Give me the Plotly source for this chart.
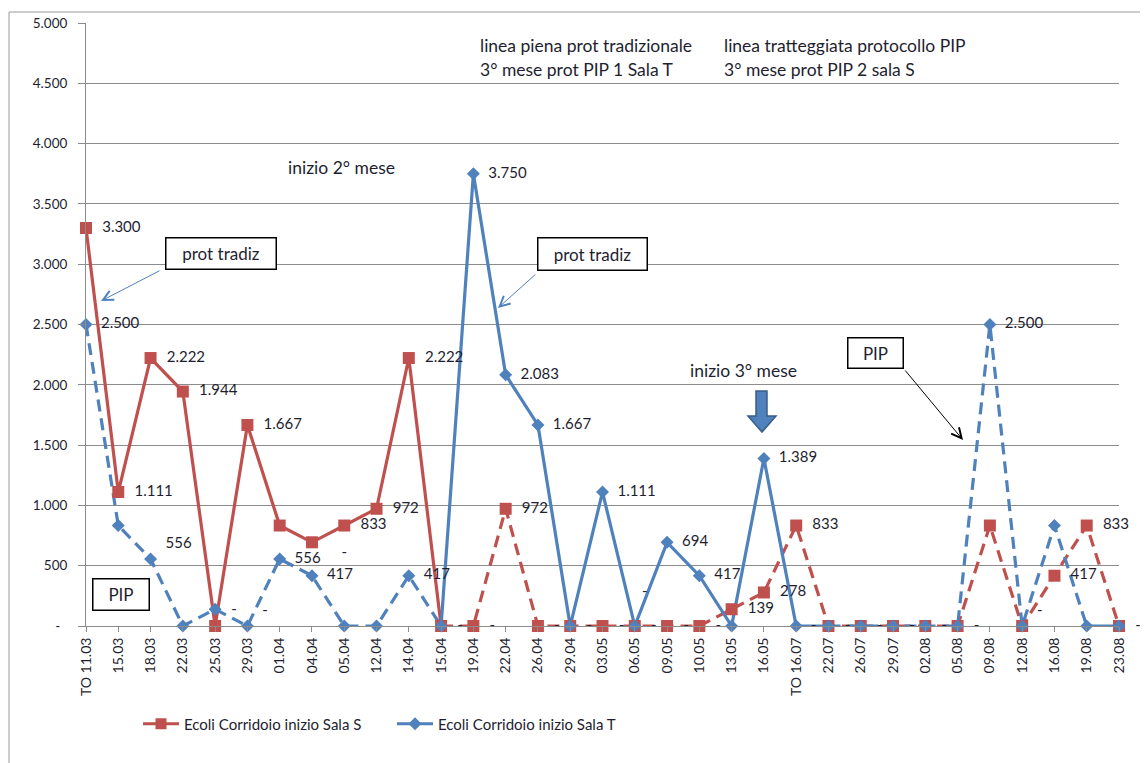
import plotly.graph_objects as go

categories = ["TO 11.03", "15.03", "18.03", "22.03", "25.03", "29.03", "01.04", "04.04",
              "05.04", "12.04", "14.04", "15.04", "19.04", "22.04", "26.04", "29.04",
              "03.05", "06.05", "09.05", "10.05", "13.05", "16.05", "TO 16.07", "22.07",
              "26.07", "29.07", "02.08", "05.08", "09.08", "12.08", "16.08", "19.08", "23.08"]

sala_s = [3300, 1111, 2222, 1944, 0, 1667, 833, 694, 833, 972, 2222, 0,
          0, 972, 0, 0, 0, 0, 0, 0, 139, 278, 833, 0,
          0, 0, 0, 0, 833, 0, 417, 833, 0]

sala_t = [2500, 833, 556, 0, 139, 0, 556, 417, 0, 0, 417, 0,
          3750, 2083, 1667, 0, 1111, 0, 694, 417, 0, 1389, 0, 0,
          0, 0, 0, 0, 2500, 0, 833, 0, 0]

labels_s = ["3.300", "1.111", "2.222", "1.944", "-", "1.667", "", "", "833", "972", "2.222", "-",
            "-", "972", "-", "-", "-", "-", "-", "-", "139", "278", "833", "-",
            "-", "-", "-", "-", "", "", "417", "833", "-"]
labels_t = ["2.500", "", "556", "", "", "-", "556", "417", "-", "", "417", "",
            "3.750", "2.083", "1.667", "", "1.111", "-", "694", "417", "", "1.389", "-", "",
            "", "", "", "", "2.500", "-", "", "", ""]
labpos_s = ["middle right"] * 33
labpos_s[4] = "top right"
labpos_t = ["middle right"] * 33
for i in (2, 5, 17, 29):
    labpos_t[i] = "top right"
labpos_t[8] = "top center"
# labels lifted higher above their point (number of blank lines under the text)
lift_t = {8: 3, 17: 1}

y_ticks = [0, 500, 1000, 1500, 2000, 2500, 3000, 3500, 4000, 4500, 5000]
y_ticktext = ["-\u00a0\u00a0", "500", "1.000", "1.500", "2.000", "2.500", "3.000",
              "3.500", "4.000", "4.500", "5.000"]

RED = "#C0504D"
BLUE = "#4F81BD"
FONT = "Lato"
TXT = "#1e1e30"

# segments: (start, end, dash)
seg_s = [(0, 11, "solid"), (11, 32, "12px,7px")]
seg_t = [(0, 11, "12px,7px"), (11, 23, "solid"), (23, 31, "12px,7px"), (31, 32, "solid")]

fig = go.Figure()


def add_segments(vals, segs, color):
    for a, b, dash in segs:
        fig.add_trace(go.Scatter(
            x=categories[a:b + 1], y=vals[a:b + 1], mode="lines",
            line=dict(color=color, width=3.2, dash=dash),
            showlegend=False, hoverinfo="skip", cliponaxis=False))


add_segments(sala_s, seg_s, RED)
add_segments(sala_t, seg_t, BLUE)

lab_s = ["\u00a0\u00a0" + t if t else "" for t in labels_s]
lab_t = []
for i, t in enumerate(labels_t):
    if not t:
        lab_t.append("")
    elif i in lift_t:
        lab_t.append(t + "<br>\u00a0" * lift_t[i])
    else:
        lab_t.append("\u00a0\u00a0" + t)

fig.add_trace(go.Scatter(
    x=categories, y=sala_s, mode="markers+text", name="Ecoli Corridoio inizio Sala S",
    marker=dict(symbol="square", size=12, color=RED),
    text=lab_s, textposition=labpos_s, textfont=dict(family=FONT, size=15, color=TXT),
    showlegend=False, cliponaxis=False))
fig.add_trace(go.Scatter(
    x=categories, y=sala_t, mode="markers+text", name="Ecoli Corridoio inizio Sala T",
    marker=dict(symbol="diamond", size=10, color=BLUE),
    text=lab_t, textposition=labpos_t, textfont=dict(family=FONT, size=15, color=TXT),
    showlegend=False, cliponaxis=False))

# legend entries
fig.add_trace(go.Scatter(x=[None], y=[None], mode="lines+markers", name="Ecoli Corridoio inizio Sala S",
                         line=dict(color=RED, width=3.2), marker=dict(symbol="square", size=11, color=RED)))
fig.add_trace(go.Scatter(x=[None], y=[None], mode="lines+markers", name="Ecoli Corridoio inizio Sala T",
                         line=dict(color=BLUE, width=3.2), marker=dict(symbol="diamond", size=10, color=BLUE)))

# screen-pixel -> data helpers for decorations (page has 8px body offset)
OFF = 8
W, H = 1148 - OFF, 763 - OFF
X0, X1, Y0, Y1 = 86, 1119, 626, 23


def xd(px):
    return (px - X0) / ((X1 - X0) / 32)


def yd(py):
    return (Y0 - py) / (Y0 - Y1) * 5000


annotations = []


def note(text, px, py, size=17.5, anchor="left"):
    annotations.append(dict(text=text, x=xd(px), y=yd(py), xref="x", yref="y",
                            showarrow=False, xanchor=anchor, yanchor="middle",
                            font=dict(family=FONT, size=size, color=TXT)))


def box(text, cx, cy, w, h):
    annotations.append(dict(text=text, x=xd(cx), y=yd(cy), xref="x", yref="y",
                            showarrow=False, xanchor="center", yanchor="middle",
                            width=w, height=h, borderpad=0, borderwidth=1.5,
                            bordercolor="#000000", bgcolor="#ffffff",
                            font=dict(family=FONT, size=17, color=TXT)))


def arrow(tail, tip, color):
    annotations.append(dict(text="", x=xd(tip[0]), y=yd(tip[1]), xref="x", yref="y",
                            ax=xd(tail[0]), ay=yd(tail[1]), axref="x", ayref="y",
                            showarrow=True, arrowhead=5, arrowsize=2, arrowwidth=1,
                            arrowcolor=color))


note("linea piena prot tradizionale", 478, 45)
note("3° mese prot PIP 1 Sala T", 478, 69)
note("linea tratteggiata protocollo PIP", 722, 45)
note("3° mese prot PIP 2 sala S", 722, 69)
note("inizio 2° mese", 286, 167)
note("inizio 3° mese", 688, 370)

box("prot tradiz", 221, 253, 109, 30)
box("prot tradiz", 592, 254, 108, 31)
box("PIP", 121, 594, 55, 30)
box("PIP", 875, 353, 54, 29)

arrow((161, 270), (101, 301), BLUE)
arrow((537, 273), (498, 308), BLUE)
arrow((904, 369), (963, 440), "#000000")

# block arrow "inizio 3° mese"
pts = [(756, 391), (767, 391), (767, 416), (776, 416), (762, 432), (748, 416), (756, 416)]
path = "M " + " L ".join(f"{xd(a):.4f},{yd(b):.2f}" for a, b in pts) + " Z"

shapes = [
    dict(type="path", path=path, xref="x", yref="y", fillcolor=BLUE,
         line=dict(color="#385D8A", width=1.5)),
    dict(type="rect", xref="paper", yref="paper",
         x0=(9 - X0) / (X1 - X0), x1=(1200 - X0) / (X1 - X0),
         y0=(Y0 - 800) / (Y0 - Y1), y1=(Y0 - 12) / (Y0 - Y1),
         line=dict(color="#9a9a9a", width=1), layer="below"),
]

fig.update_layout(
    width=W, height=H,
    margin=dict(l=X0 - OFF, r=W - (X1 - OFF), t=Y1 - OFF, b=H - (Y0 - OFF), autoexpand=False),
    paper_bgcolor="white", plot_bgcolor="white",
    font=dict(family=FONT, size=12, color=TXT),
    showlegend=True,
    legend=dict(orientation="h", x=(138 - X0) / (X1 - X0), y=(Y0 - 724) / (Y0 - Y1),
                xanchor="left", yanchor="middle", entrywidth=203, entrywidthmode="pixels",
                itemwidth=36, font=dict(family=FONT, size=15, color=TXT)),
    annotations=annotations, shapes=shapes,
    xaxis=dict(type="category", categoryorder="array", categoryarray=categories,
               range=[0, 32], showgrid=False, showline=True, linecolor="#8c8c8c", linewidth=1,
               ticks="outside", ticklen=5, tickcolor="#8c8c8c", tickangle=-90,
               tickfont=dict(family=FONT, size=14, color=TXT), zeroline=False),
    yaxis=dict(range=[0, 5000], tickvals=y_ticks, ticktext=y_ticktext,
               showgrid=True, gridcolor="#8c8c8c", gridwidth=1,
               showline=True, linecolor="#8c8c8c", linewidth=1,
               ticks="outside", ticklen=7, tickcolor="#8c8c8c",
               ticklabelstandoff=8,
               tickfont=dict(family=FONT, size=13.5, color=TXT), zeroline=False),
)

fig.write_html("out.html")
